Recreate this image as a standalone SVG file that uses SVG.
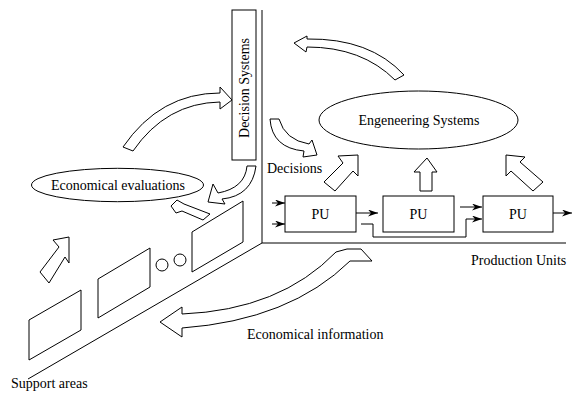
<svg xmlns="http://www.w3.org/2000/svg" width="573" height="394" viewBox="0 0 573 394">
  <defs>
    <marker id="tip" markerUnits="userSpaceOnUse" markerWidth="11" markerHeight="7" refX="10" refY="3.5" orient="auto">
      <path d="M0,0 L10,3.5 L0,7 L3,3.5 Z" fill="#000"/>
    </marker>
    <style>
      .ln { fill: none; stroke: #000; stroke-width: 1; }
      .box { fill: #fff; stroke: #000; stroke-width: 1; }
      .blk { fill: #fff; stroke: #000; stroke-width: 1; stroke-linejoin: miter; }
      .flow { fill: none; stroke: #000; stroke-width: 1; marker-end: url(#tip); }
      .t { font-family: 'Liberation Serif', 'Times New Roman', serif; font-size: 14px; fill: #000; }
      .c { text-anchor: middle; }
    </style>
  </defs>

  <rect width="573" height="394" fill="#fff"/>

  <!-- axes -->
  <g id="axes">
    <line class="ln" x1="262" y1="10" x2="262" y2="243"/>
    <line class="ln" x1="262" y1="243" x2="566" y2="243"/>
    <line class="ln" x1="262" y1="243" x2="28" y2="379"/>
  </g>

  <!-- decision systems column -->
  <g id="decision-systems">
    <rect class="box" x="232" y="10" width="24" height="150"/>
    <text class="t c" transform="translate(248.5,88) rotate(-90)">Decision Systems</text>
  </g>

  <g id="engineering-systems">
    <ellipse class="box" cx="418.5" cy="120" rx="99.5" ry="29"/>
    <text class="t c" x="419" y="124.5">Engeneering Systems</text>
  </g>

  <g id="economical-evaluations">
    <ellipse class="box" cx="117.5" cy="185" rx="86" ry="16.7"/>
    <text class="t c" x="118" y="190">Economical evaluations</text>
  </g>

  <!-- production units -->
  <g id="pu1">
    <rect class="box" x="285" y="196" width="71" height="36"/>
    <text class="t c" x="320.5" y="219">PU</text>
  </g>
  <g id="pu2">
    <rect class="box" x="383" y="196" width="71" height="36"/>
    <text class="t c" x="418.5" y="219">PU</text>
  </g>
  <g id="pu3">
    <rect class="box" x="483" y="196" width="70" height="36"/>
    <text class="t c" x="518" y="219">PU</text>
  </g>

  <!-- support areas -->
  <g id="support-areas">
    <polygon class="box" points="29,320 81,290 81,330 29,360"/>
    <polygon class="box" points="98,279 150,248 150,287 98,318"/>
    <polygon class="box" points="192,232 243,201 243,242 192,272"/>
    <circle class="box" cx="162" cy="265" r="6"/>
    <circle class="box" cx="180" cy="260" r="6"/>
  </g>

  <!-- labels -->
  <g id="labels">
    <text class="t" x="267" y="173">Decisions</text>
    <text class="t" x="471" y="265">Production Units</text>
    <text class="t" x="247" y="339">Economical information</text>
    <text class="t" x="11" y="388">Support areas</text>
  </g>

  <!-- connectors -->
  <g id="connectors">
    <!-- material flow between production units -->
    <line class="flow" x1="272" y1="203" x2="285" y2="203"/>
    <line class="flow" x1="272" y1="224" x2="285" y2="224"/>
    <line class="flow" x1="356" y1="213" x2="378" y2="213"/>
    <line class="flow" x1="460" y1="207" x2="482" y2="207"/>
    <polyline class="flow" points="361,224 373,224 373,237 466,237 466,219 482,219"/>
    <line class="flow" x1="553" y1="213" x2="572" y2="213"/>

    <!-- block arrows -->
    <path class="blk" d="M123,147 Q160,93 220,93 L220,87 L232,100 L220,109 L220,102 Q166,103 133,151 Z"/>
    <path class="blk" d="M404,75 Q370,38 307,39 L307,36 L294,43 L306,52 L307,47 Q362,47 395,80 Z"/>
    <path class="blk" d="M270,119 Q272,148 304,151 L303,157 L317,155 L312,140 L309,144 Q285,140 279,119 Z"/>
    <path class="blk" d="M247,166 Q245,188 218,193 L213,184 L208,202 L225,204 L222,199 Q252,196 256,166 Z"/>
    <polygon class="blk" points="171,206 177,200 184,204 210,214 203,220 182,211 176,213"/>
    <polygon class="blk" points="358,155 358,176 353,171 335,191 324,182 343,163 338,156"/>
    <polygon class="blk" points="427,158 437,172 432,172 432,191 420,191 420,172 414,172"/>
    <polygon class="blk" points="506,155 525,157 520,162 543,182 533,191 511,171 506,176"/>
    <polygon class="blk" points="69,237 53,240 59,247 40,272 49,283 65,257 69,263"/>
    <path class="blk" d="M160,322 L182,307 L182,314 Q280,310 336,252 L347,249 L361,249 L372,261 L350,261 Q290,320 182,328 L182,337 Z"/>
  </g>
</svg>
